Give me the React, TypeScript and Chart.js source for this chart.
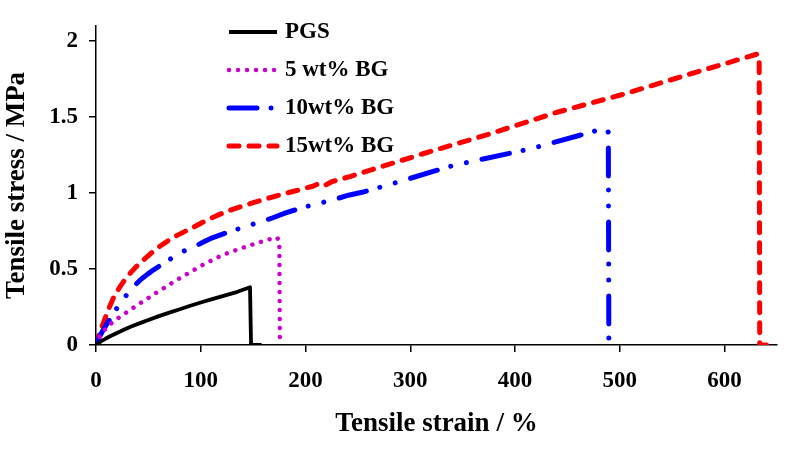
import React, { useEffect, useRef } from 'react';
import { Chart, registerables } from 'chart.js';

Chart.register(...registerables);

const FONT = "'Liberation Serif', 'Times New Roman', serif";

const seriesLabels = ['PGS', '5 wt% BG', '10wt% BG', '15wt% BG'];

const pgsStrain = [0, 2, 5, 9, 13, 19, 25, 33, 42, 50, 60, 70, 80, 90, 100, 110, 120, 135, 147, 148, 158];
const pgsStress = [0, 0.011, 0.025, 0.041, 0.056, 0.076, 0.095, 0.12, 0.144, 0.165, 0.19, 0.213, 0.235, 0.258, 0.28, 0.3, 0.32, 0.35, 0.38, 0, 0];

const bg5Strain = [0, 2, 4, 7, 11, 15, 20, 25, 32, 40, 50, 60, 70, 80, 90, 100, 110, 120, 130, 140, 150, 160, 167, 172, 175, 175.5];
const bg5Stress = [0, 0.035, 0.06, 0.09, 0.12, 0.145, 0.172, 0.195, 0.228, 0.265, 0.31, 0.355, 0.398, 0.44, 0.48, 0.52, 0.556, 0.59, 0.616, 0.64, 0.663, 0.685, 0.699, 0.71, 0.69, 0];

const bg10Strain = [0, 1.5, 3, 5, 7, 10, 13, 17, 22, 27, 32, 37, 43, 49, 55, 61, 67, 73, 80, 87, 95, 102, 109, 123, 137, 152, 167, 181, 195, 209, 225, 241, 255, 283, 341, 415, 461, 478, 487, 489, 489.5];
const bg10Stress = [0, 0.028, 0.05, 0.076, 0.1, 0.135, 0.166, 0.212, 0.264, 0.31, 0.352, 0.392, 0.433, 0.465, 0.495, 0.522, 0.548, 0.575, 0.607, 0.628, 0.651, 0.676, 0.7, 0.735, 0.767, 0.8, 0.833, 0.87, 0.9, 0.927, 0.953, 0.986, 1.007, 1.062, 1.182, 1.292, 1.379, 1.412, 1.425, 1.4, 0];

const bg15Strain = [0, 1.5, 3, 5, 7, 10, 13, 17, 23, 28, 34, 40, 47, 54, 61, 69, 77, 85, 93, 101, 110, 120, 131, 147, 163, 179, 195, 207, 211, 214, 217, 225, 243, 265, 287, 312, 376, 440, 504, 567, 631, 633, 633.5, 640];
const bg15Stress = [0, 0.038, 0.07, 0.11, 0.144, 0.2, 0.253, 0.316, 0.384, 0.434, 0.483, 0.527, 0.57, 0.612, 0.65, 0.687, 0.72, 0.748, 0.775, 0.805, 0.835, 0.866, 0.895, 0.93, 0.964, 0.995, 1.023, 1.045, 1.058, 1.05, 1.045, 1.075, 1.11, 1.158, 1.205, 1.259, 1.39, 1.532, 1.652, 1.784, 1.915, 1.9, 0, 0];

const xTicks = [0, 100, 200, 300, 400, 500, 600];
const yTicks = [0, 0.5, 1, 1.5, 2];

const toPoints = (xs: number[], ys: number[]) => xs.map((x, i) => ({ x, y: ys[i] }));

const legendPlugin = {
  id: 'customLegend',
  afterDraw(chart: any) {
    const ctx = chart.ctx;
    ctx.save();
    chart.data.datasets.forEach((ds: any, i: number) => {
      const y = 32 + i * 38;
      ctx.beginPath();
      ctx.strokeStyle = ds.borderColor;
      ctx.lineWidth = ds.borderWidth;
      ctx.setLineDash(ds.borderDash || []);
      ctx.lineCap = ds.borderCapStyle || 'butt';
      ctx.moveTo(229, y);
      ctx.lineTo(277, y);
      ctx.stroke();
      ctx.setLineDash([]);
      ctx.fillStyle = '#000';
      ctx.font = `bold 23px ${FONT}`;
      ctx.textBaseline = 'middle';
      ctx.textAlign = 'left';
      ctx.fillText(ds.label, 285, y);
    });
    ctx.restore();
  },
};

export default function App() {
  const canvasRef = useRef<HTMLCanvasElement | null>(null);

  useEffect(() => {
    if (!canvasRef.current) return;
    const common = { pointRadius: 0, tension: 0, borderJoinStyle: 'round' };
    const chart = new Chart(canvasRef.current, {
      type: 'line',
      data: {
        datasets: [
          {
            label: seriesLabels[0],
            data: toPoints(pgsStrain, pgsStress),
            borderColor: '#000000',
            borderWidth: 3.8,
            borderCapStyle: 'butt',
            ...common,
          },
          {
            label: seriesLabels[1],
            data: toPoints(bg5Strain, bg5Stress),
            borderColor: '#cc00cc',
            borderWidth: 4.5,
            borderDash: [0.01, 9],
            borderCapStyle: 'round',
            ...common,
          },
          {
            label: seriesLabels[2],
            data: toPoints(bg10Strain, bg10Stress),
            borderColor: '#0000ff',
            borderWidth: 5,
            borderDash: [28, 14, 0.01, 16, 0.01, 16],
            borderCapStyle: 'round',
            ...common,
          },
          {
            label: seriesLabels[3],
            data: toPoints(bg15Strain, bg15Stress),
            borderColor: '#ff0000',
            borderWidth: 5,
            borderDash: [10, 10],
            borderCapStyle: 'round',
            ...common,
          },
        ],
      },
      options: {
        animation: false,
        responsive: true,
        maintainAspectRatio: false,
        layout: { padding: { top: 26, right: 23, left: 0, bottom: 0 } },
        plugins: { legend: { display: false }, tooltip: { enabled: false } },
        scales: {
          x: {
            type: 'linear',
            min: 0,
            max: 650,
            afterBuildTicks: (s: any) => {
              s.ticks = xTicks.map((v) => ({ value: v }));
            },
            afterFit: (s: any) => {
              s.height = 111;
            },
            border: { display: true, color: '#000', width: 1.5 },
            grid: { display: true, drawOnChartArea: false, drawTicks: true, tickLength: 7, color: '#000', lineWidth: 1.5 },
            ticks: {
              color: '#000',
              font: { family: FONT, size: 23, weight: 'bold' },
              padding: 15,
              maxRotation: 0,
              callback: (v: any) => String(v),
            },
            title: {
              display: true,
              text: 'Tensile strain / %',
              color: '#000',
              font: { family: FONT, size: 27, weight: 'bold' },
              padding: { top: 0, bottom: 16 },
            },
          },
          y: {
            type: 'linear',
            min: 0,
            max: 2.1,
            afterBuildTicks: (s: any) => {
              s.ticks = yTicks.map((v) => ({ value: v }));
            },
            afterFit: (s: any) => {
              s.width = 96;
            },
            border: { display: true, color: '#000', width: 1.5 },
            grid: { display: true, drawOnChartArea: false, drawTicks: true, tickLength: 7, color: '#000', lineWidth: 1.5 },
            ticks: {
              color: '#000',
              font: { family: FONT, size: 23, weight: 'bold' },
              padding: 11,
              callback: (v: any) => String(v),
            },
            title: {
              display: true,
              text: 'Tensile stress / MPa',
              color: '#000',
              font: { family: FONT, size: 27, weight: 'bold' },
              padding: { top: 1, bottom: 0 },
            },
          },
        },
      },
      plugins: [legendPlugin],
    } as any);
    return () => chart.destroy();
  }, []);

  return (
    <div style={{ position: 'fixed', left: 0, top: 0, width: 800, height: 456, background: '#fff' }}>
      <canvas ref={canvasRef} />
    </div>
  );
}
